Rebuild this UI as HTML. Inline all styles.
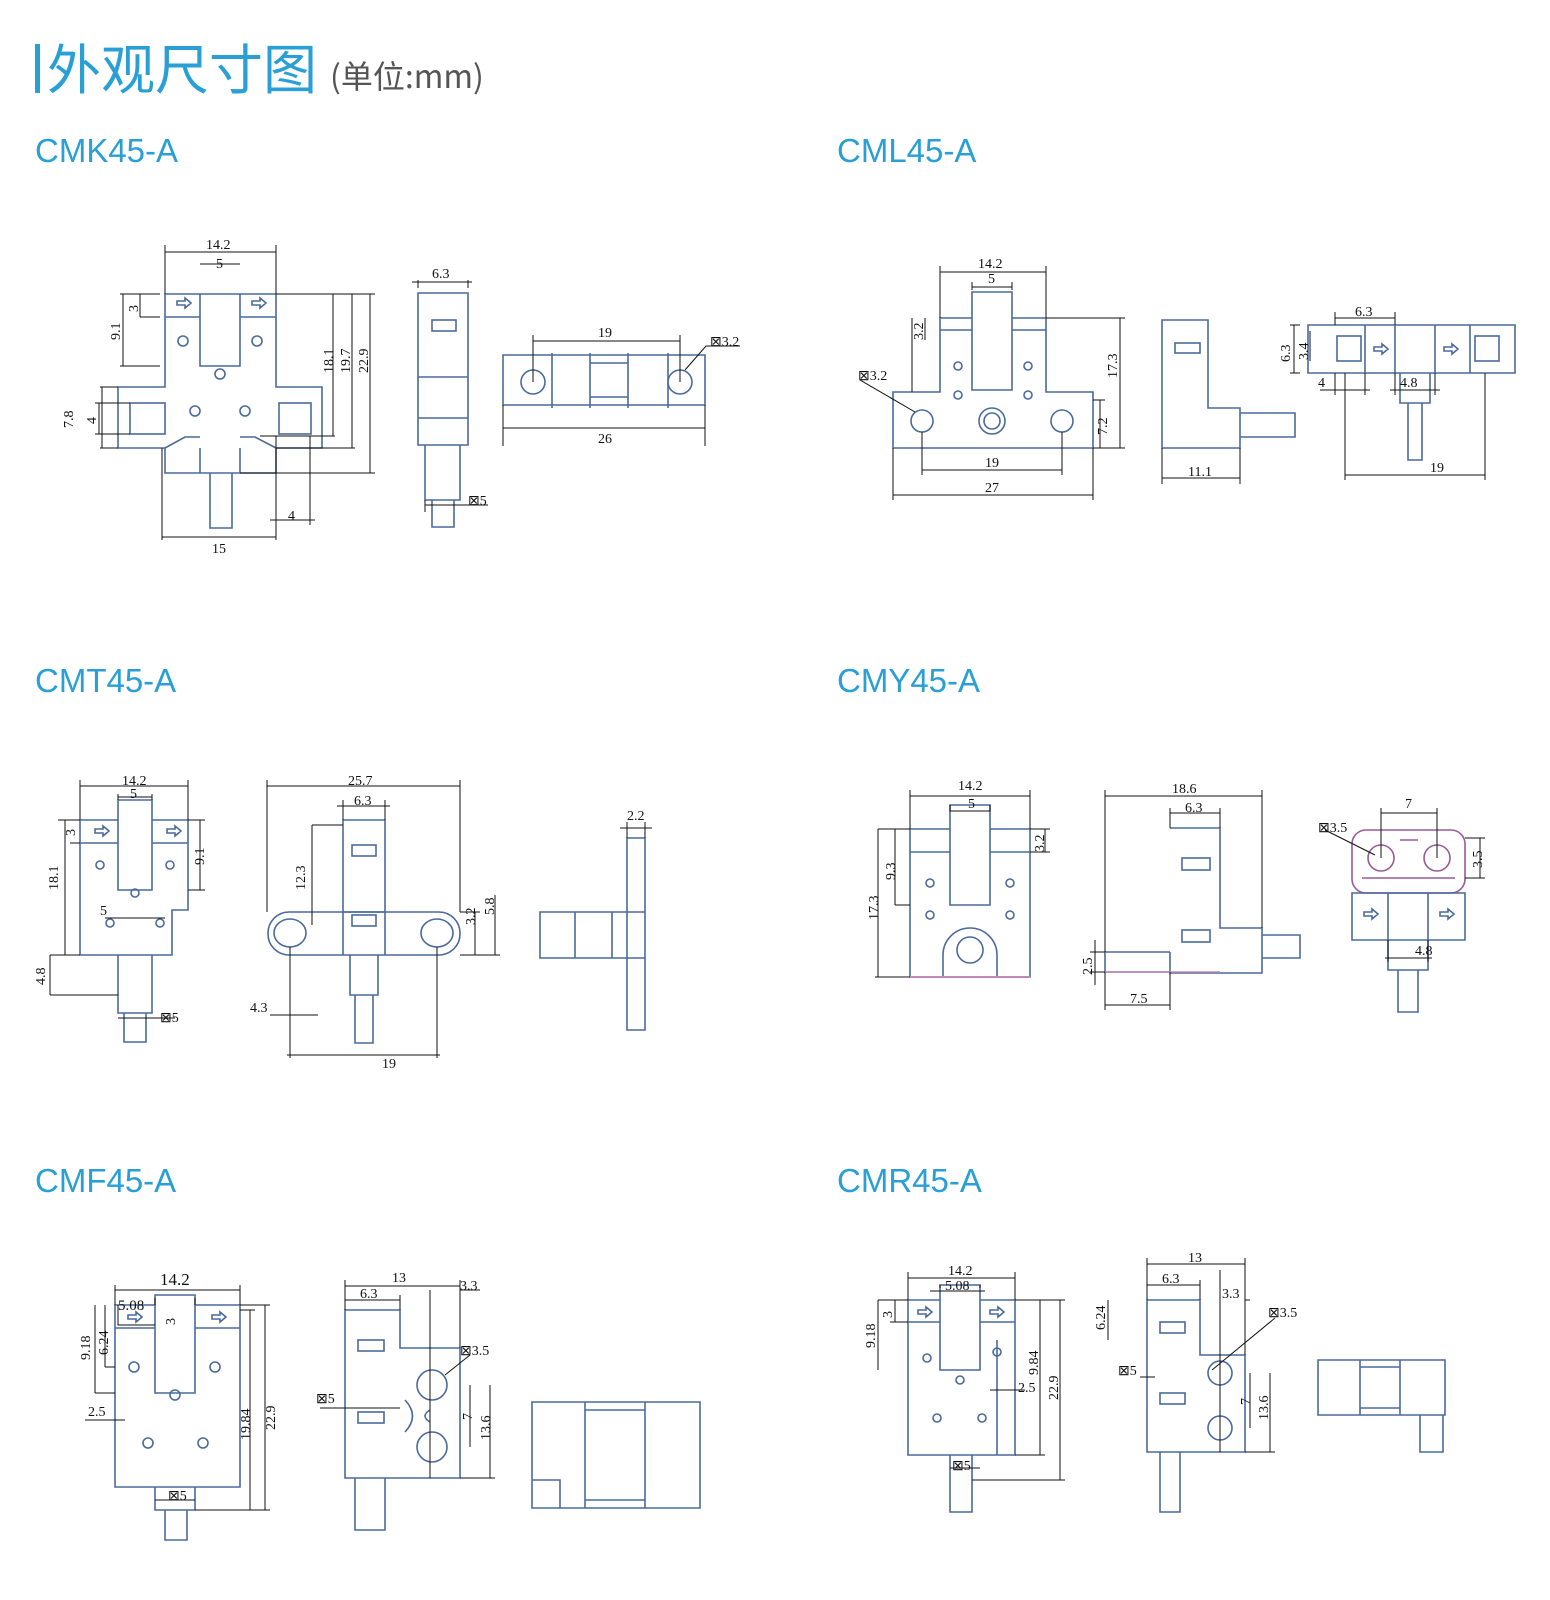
<!DOCTYPE html>
<html><head><meta charset="utf-8"><style>
html,body{margin:0;padding:0;background:#fff;width:1550px;height:1600px;overflow:hidden}
svg{display:block}
.o{fill:none;stroke:#4a6a9c;stroke-width:1.6}
.p{fill:none;stroke:#9a5a9a;stroke-width:1.6}
.d{fill:none;stroke:#111;stroke-width:1}
.t{font-family:"Liberation Serif",serif;font-size:14px;fill:#111}
.h{font-family:"Liberation Sans","Noto Sans CJK SC",sans-serif;font-size:33px;fill:#2a9fd6}
</style></head><body>
<svg width="1550" height="1600" viewBox="0 0 1550 1600" xmlns="http://www.w3.org/2000/svg">
<rect x="35" y="44" width="5" height="49" fill="#2a9fd6"/>
<text x="47" y="89" style="font-family:'Noto Sans CJK SC',sans-serif;font-size:54px;fill:#2a9fd6">外观尺寸图</text>
<text x="330" y="88" style="font-family:'Noto Sans CJK SC',sans-serif;font-size:32px;fill:#555">(单位:mm)</text>
<text class="h" x="35" y="162">CMK45-A</text>
<text class="h" x="837" y="162">CML45-A</text>
<text class="h" x="35" y="692">CMT45-A</text>
<text class="h" x="837" y="692">CMY45-A</text>
<text class="h" x="35" y="1192">CMF45-A</text>
<text class="h" x="837" y="1192">CMR45-A</text>

<!-- CMK front -->
<path class="o" d="M165,294H276V387H322V448H276V473H240H200V473H165V448H118V387H165Z"/>
<path class="o" d="M200,294V366H240V294M165,317H200M240,317H276M200,473V448M240,448V473M210,473V528H232V473"/>
<rect class="o" x="130" y="403" width="35" height="31"/><rect class="o" x="279" y="403" width="32" height="31"/>
<path class="o" d="M165,448L185,437H200M240,437H255L276,448"/>
<circle class="o" cx="183" cy="341" r="5"/><circle class="o" cx="257" cy="341" r="5"/><circle class="o" cx="220" cy="374" r="5"/><circle class="o" cx="195" cy="411" r="5"/><circle class="o" cx="245" cy="411" r="5"/>
<path class="o" d="M177,301h8v-3l6,5l-6,5v-3h-8z M252,301h8v-3l6,5l-6,5v-3h-8z"/>
<g class="d"><path d="M165,294V245M276,294V245M165,252H276M200,264H240M276,294H375M260,436H335M276,448H355M240,473H375M160,294H120M160,317H140M160,366H120M118,387H100M118,448H100M130,403H95M130,434H95M162,448V540M276,436V540M310,436V525M162,537H276M270,520H315M333,294V436M352,294V448M370,294V473M123,294V366M140,294V317M102,387V448M99,403V434"/></g>
<text class="t" x="206" y="249">14.2</text><text class="t" x="216" y="268">5</text><text class="t" x="212" y="553">15</text><text class="t" x="288" y="520">4</text>
<text class="t" transform="translate(333,373)rotate(-90)">18.1</text><text class="t" transform="translate(350,373)rotate(-90)">19.7</text><text class="t" transform="translate(368,373)rotate(-90)">22.9</text>
<text class="t" transform="translate(120,340)rotate(-90)">9.1</text><text class="t" transform="translate(138,312)rotate(-90)">3</text><text class="t" transform="translate(73,428)rotate(-90)">7.8</text><text class="t" transform="translate(96,424)rotate(-90)">4</text>
<!-- CMK side -->
<path class="o" d="M418,293H468V445H418Z M418,377H468 M418,418H468 M425,445V500H460V445 M432,500V527H454V500"/><rect class="o" x="432" y="320" width="24" height="11"/>
<g class="d"><path d="M418,288V280M468,288V280M412,282H472M425,505H488M425,500V512"/></g>
<text class="t" x="432" y="278">6.3</text><text class="t" x="468" y="505">⊠5</text>
<!-- CMK third -->
<path class="o" d="M503,355H705V405H503Z M552,353V408 M590,353V408 M628,353V408 M668,353V408 M590,363H628 M590,397H628"/>
<circle class="o" cx="533" cy="382" r="12"/><circle class="o" cx="680" cy="382" r="12"/>
<g class="d"><path d="M533,382V335M680,382V335M533,341H680M503,405V446M705,405V446M503,428H705M685,370L706,346H740"/></g>
<text class="t" x="598" y="337">19</text><text class="t" x="598" y="443">26</text><text class="t" x="710" y="346">⊠3.2</text>

<!-- CML front -->
<path class="o" d="M940,318H972V292H1012V318H1046V392H1093V448H893V392H940Z M972,318V390H1012V318 M940,330H972M1012,330H1046"/>
<circle class="o" cx="922" cy="421" r="11"/><circle class="o" cx="992" cy="421" r="13"/><circle class="o" cx="992" cy="421" r="8"/><circle class="o" cx="1062" cy="421" r="11"/>
<circle class="o" cx="958" cy="366" r="4"/><circle class="o" cx="1028" cy="366" r="4"/><circle class="o" cx="958" cy="395" r="4"/><circle class="o" cx="1028" cy="395" r="4"/>
<g class="d"><path d="M940,318V266M1046,318V266M940,272H1046M972,290V282M1012,290V282M972,287H1012M1046,318H1125M1093,400H1105M1093,448H1125M1120,318V448M1100,400V448M922,432V475M1062,432V475M922,470H1062M893,448V500M1093,448V500M893,495H1093M912,318V392M925,318V340M860,380L915,412"/></g>
<text class="t" x="978" y="268">14.2</text><text class="t" x="988" y="283">5</text><text class="t" x="985" y="467">19</text><text class="t" x="985" y="492">27</text><text class="t" x="858" y="380">⊠3.2</text>
<text class="t" transform="translate(1117,378)rotate(-90)">17.3</text><text class="t" transform="translate(1107,435)rotate(-90)">7.2</text><text class="t" transform="translate(923,340)rotate(-90)">3.2</text>
<!-- CML side -->
<path class="o" d="M1162,320H1208V408H1240V448H1162Z M1240,413H1295V437H1240"/><rect class="o" x="1175" y="343" width="25" height="10"/>
<g class="d"><path d="M1162,448V484M1240,448V484M1162,478H1240"/></g><text class="t" x="1188" y="476">11.1</text>
<!-- CML third -->
<path class="o" d="M1308,325H1515V373H1308Z M1365,325V373M1395,325V373M1435,325V373M1470,325V373 M1400,373V403H1430V373 M1408,403V460H1422V403"/>
<rect class="o" x="1337" y="336" width="24" height="25"/><rect class="o" x="1475" y="336" width="24" height="25"/>
<path class="o" d="M1374,347h8v-3l6,5l-6,5v-3h-8z M1444,347h8v-3l6,5l-6,5v-3h-8z"/>
<g class="d"><path d="M1300,325H1290M1300,373H1290M1294,325V373M1310,331V361M1345,373V480M1485,373V480M1345,475H1485M1335,373V395M1365,373V395M1320,390H1370M1395,373V395M1435,373V395M1390,390H1440M1335,325V312M1395,325V312M1335,318H1395"/></g>
<text class="t" x="1355" y="316">6.3</text><text class="t" x="1400" y="387">4.8</text><text class="t" x="1318" y="387">4</text><text class="t" x="1430" y="472">19</text>
<text class="t" transform="translate(1290,362)rotate(-90)">6.3</text><text class="t" transform="translate(1308,360)rotate(-90)">3.4</text>

<!-- CMT front -->
<path class="o" d="M80,820H118V800H152V820H188V910H172V955H80Z M118,820V890H152V820 M80,843H118M152,843H188 M118,955V1013H152V955 M124,1013V1042H146V1013"/>
<circle class="o" cx="100" cy="865" r="4"/><circle class="o" cx="170" cy="865" r="4"/><circle class="o" cx="135" cy="893" r="4"/><circle class="o" cx="110" cy="923" r="4"/><circle class="o" cx="160" cy="923" r="4"/>
<path class="o" d="M95,829h8v-3l6,5l-6,5v-3h-8z M167,829h8v-3l6,5l-6,5v-3h-8z"/>
<g class="d"><path d="M80,820V780M188,820V780M80,786H188M118,800V794M152,800V794M118,797H152M188,820H205M188,890H205M200,820V890M80,820H58M80,843H70M65,820V955M80,955H50M50,955V995M50,995H118M118,1018H175M105,918H165"/></g>
<text class="t" x="122" y="785">14.2</text><text class="t" x="130" y="798">5</text><text class="t" x="100" y="915">5</text><text class="t" x="160" y="1022">⊠5</text>
<text class="t" transform="translate(58,890)rotate(-90)">18.1</text><text class="t" transform="translate(75,836)rotate(-90)">3</text><text class="t" transform="translate(204,865)rotate(-90)">9.1</text><text class="t" transform="translate(45,985)rotate(-90)">4.8</text>
<!-- CMT side -->
<path class="o" d="M343,820H385V912H343Z"/><rect class="o" x="268" y="912" width="192" height="43" rx="21"/>
<path class="o" d="M343,912V955M385,912V955 M350,955V995H378V955 M355,995V1043H373V995"/>
<ellipse class="o" cx="290" cy="933" rx="16" ry="14"/><ellipse class="o" cx="437" cy="933" rx="16" ry="14"/>
<rect class="o" x="352" y="845" width="24" height="11"/><rect class="o" x="352" y="915" width="24" height="11"/>
<g class="d"><path d="M267,912V780M460,912V780M267,786H460M343,820V800M385,820V800M337,806H390M343,825H312M312,825V925M460,912H480M460,955H500M475,912V955M495,895V955M290,947V1058M437,947V1058M287,1055H440M270,1015H318"/></g>
<text class="t" x="348" y="785">25.7</text><text class="t" x="354" y="805">6.3</text><text class="t" x="382" y="1068">19</text><text class="t" x="250" y="1012">4.3</text>
<text class="t" transform="translate(305,890)rotate(-90)">12.3</text><text class="t" transform="translate(475,925)rotate(-90)">3.2</text><text class="t" transform="translate(494,915)rotate(-90)">5.8</text>
<!-- CMT third -->
<path class="o" d="M627,838H645V1030H627Z M540,912H645V958H540Z M575,912V958M612,912V958"/>
<g class="d"><path d="M627,838V822M645,838V822M620,828H652"/></g><text class="t" x="627" y="820">2.2</text>

<!-- CMY front -->
<path class="o" d="M910,829H950V805H990V829H1030V977H910Z M950,829V905H990V829 M910,852H950M990,852H1030 M943,977V955A27,27 0 0 1 997,955V977"/>
<circle class="o" cx="970" cy="950" r="13"/><circle class="o" cx="930" cy="883" r="4"/><circle class="o" cx="1010" cy="883" r="4"/><circle class="o" cx="930" cy="915" r="4"/><circle class="o" cx="1010" cy="915" r="4"/>
<path d="M910,977H1030" stroke="#c08ab8" stroke-width="2"/>
<g class="d"><path d="M910,829V790M1030,829V790M910,796H1030M950,805V811H990V805M910,829H878M878,829V977M910,977H875M910,905H895M895,829V905M1030,829H1050M1030,852H1050M1045,829V852"/></g>
<text class="t" x="958" y="790">14.2</text><text class="t" x="968" y="808">5</text>
<text class="t" transform="translate(878,920)rotate(-90)">17.3</text><text class="t" transform="translate(895,880)rotate(-90)">9.3</text><text class="t" transform="translate(1044,852)rotate(-90)">3.2</text>
<!-- CMY side -->
<path class="o" d="M1170,828H1220V928H1262V973H1170V972H1105V952H1170 M1262,935H1300V958H1262 M1170,952V972"/>
<rect class="o" x="1182" y="858" width="28" height="12"/><rect class="o" x="1182" y="930" width="28" height="12"/>
<path d="M1105,972H1220" stroke="#c08ab8" stroke-width="1.5"/>
<g class="d"><path d="M1105,952V790M1262,928V790M1105,796H1262M1170,828V808M1220,828V808M1170,813H1220M1105,952H1090M1105,972H1090M1095,940V985M1105,972V1010M1170,972V1010M1105,1005H1170"/></g>
<text class="t" x="1172" y="793">18.6</text><text class="t" x="1185" y="812">6.3</text><text class="t" x="1130" y="1003">7.5</text><text class="t" transform="translate(1092,975)rotate(-90)">2.5</text>
<!-- CMY third -->
<rect class="p" x="1352" y="830" width="113" height="63" rx="14"/>
<circle class="p" cx="1381" cy="858" r="13"/><circle class="p" cx="1437" cy="858" r="13"/>
<path class="p" d="M1362,878H1455 M1400,840H1418"/>
<path class="o" d="M1352,893H1465V940H1352Z M1388,893V940M1428,893V940 M1388,940V970H1428V940 M1398,970V1012H1418V970"/>
<path class="o" d="M1364,912h8v-3l6,5l-6,5v-3h-8z M1440,912h8v-3l6,5l-6,5v-3h-8z"/>
<g class="d"><path d="M1381,858V808M1437,858V808M1381,813H1437M1465,838H1485M1465,878H1485M1480,838V878M1388,940V962M1428,940V962M1385,958H1432M1325,830L1375,855"/></g>
<text class="t" x="1405" y="808">7</text><text class="t" x="1415" y="955">4.8</text><text class="t" x="1318" y="832">⊠3.5</text><text class="t" transform="translate(1482,868)rotate(-90)">3.5</text>

<!-- CMF front -->
<path class="o" d="M115,1305H155V1295H195V1305H240V1487H115Z M155,1305V1393H195V1305 M115,1328H155M195,1328H240 M155,1487V1510H195V1487 M165,1510V1540H187V1510"/>
<circle class="o" cx="134" cy="1367" r="5"/><circle class="o" cx="215" cy="1367" r="5"/><circle class="o" cx="175" cy="1395" r="5"/><circle class="o" cx="148" cy="1443" r="5"/><circle class="o" cx="203" cy="1443" r="5"/>
<path class="o" d="M128,1315h8v-3l6,5l-6,5v-3h-8z M212,1315h8v-3l6,5l-6,5v-3h-8z"/>
<g class="d"><path d="M115,1305V1285M240,1305V1285M115,1290H240M118,1305V1325H155M155,1305V1298M195,1305V1298M240,1305H270M240,1310H255M195,1510H270M250,1310V1510M265,1305V1510M115,1393H95M115,1367H105M95,1305V1393M105,1305V1367M85,1420H125M155,1500H195"/></g>
<text class="t" x="160" y="1285" style="font-size:17px">14.2</text><text class="t" x="118" y="1310" style="font-size:15px">5.08</text><text class="t" x="88" y="1416">2.5</text><text class="t" x="168" y="1500">⊠5</text>
<text class="t" transform="translate(90,1360)rotate(-90)">9.18</text><text class="t" transform="translate(108,1355)rotate(-90)">6.24</text><text class="t" transform="translate(175,1325)rotate(-90)">3</text>
<text class="t" transform="translate(250,1440)rotate(-90)">19.84</text><text class="t" transform="translate(275,1430)rotate(-90)">22.9</text>
<!-- CMF side -->
<path class="o" d="M345,1310H400V1348H460V1478H345Z M355,1478V1530H385V1478"/>
<circle class="o" cx="432" cy="1385" r="15"/><circle class="o" cx="432" cy="1447" r="15"/>
<path class="o" d="M405,1400Q420,1416 405,1432M430,1410Q420,1416 430,1422"/>
<rect class="o" x="358" y="1340" width="26" height="11"/><rect class="o" x="358" y="1412" width="26" height="11"/>
<g class="d"><path d="M345,1310V1280M460,1348V1280M345,1286H460M400,1310V1295M345,1300H400M430,1290V1478M460,1290H480M460,1478H495M490,1385V1478M470,1385V1447M320,1408H400M445,1375L470,1355"/></g>
<text class="t" x="392" y="1282">13</text><text class="t" x="360" y="1298">6.3</text><text class="t" x="460" y="1290">3.3</text><text class="t" x="460" y="1355">⊠3.5</text><text class="t" x="316" y="1403">⊠5</text>
<text class="t" transform="translate(490,1440)rotate(-90)">13.6</text><text class="t" transform="translate(472,1420)rotate(-90)">7</text>
<!-- CMF third -->
<path class="o" d="M532,1402H700V1508H532Z M585,1402V1508M645,1402V1508 M532,1480H560V1508 M585,1410H645M585,1500H645"/>

<!-- CMR front -->
<path class="o" d="M908,1300H940V1285H980V1300H1015V1455H908Z M940,1300V1370H980V1300 M908,1322H940M980,1322H1015 M997,1340V1455 M950,1455V1512H972V1455"/>
<circle class="o" cx="927" cy="1358" r="4"/><circle class="o" cx="997" cy="1352" r="4"/><circle class="o" cx="960" cy="1380" r="4"/><circle class="o" cx="937" cy="1418" r="4"/><circle class="o" cx="982" cy="1418" r="4"/>
<path class="o" d="M918,1310h8v-3l6,5l-6,5v-3h-8z M990,1310h8v-3l6,5l-6,5v-3h-8z"/>
<g class="d"><path d="M908,1300V1272M1015,1300V1272M908,1278H1015M940,1285V1288M980,1285V1288M930,1291H985M908,1300H878M908,1322H890M878,1300V1370M895,1300V1322M1015,1300H1065M1015,1455H1045M1040,1300V1455M1060,1300V1480M972,1480H1065M990,1390H1025M950,1468H980"/></g>
<text class="t" x="948" y="1275">14.2</text><text class="t" x="945" y="1290">5.08</text><text class="t" x="1018" y="1392">2.5</text><text class="t" x="952" y="1470">⊠5</text>
<text class="t" transform="translate(875,1348)rotate(-90)">9.18</text><text class="t" transform="translate(892,1318)rotate(-90)">3</text><text class="t" transform="translate(1038,1375)rotate(-90)">9.84</text><text class="t" transform="translate(1058,1400)rotate(-90)">22.9</text>
<!-- CMR side -->
<path class="o" d="M1147,1300H1200V1355H1245V1452H1147Z M1160,1452V1512H1180V1452"/>
<circle class="o" cx="1220" cy="1373" r="12"/><circle class="o" cx="1220" cy="1428" r="12"/>
<rect class="o" x="1160" y="1322" width="25" height="11"/><rect class="o" x="1160" y="1393" width="25" height="11"/>
<g class="d"><path d="M1147,1300V1258M1245,1355V1258M1147,1264H1245M1200,1300V1280M1147,1285H1200M1220,1270V1452M1245,1300H1250M1245,1452H1275M1270,1373V1452M1250,1373V1428M1108,1300V1340M1140,1377H1155M1212,1370L1275,1318"/></g>
<text class="t" x="1188" y="1262">13</text><text class="t" x="1162" y="1283">6.3</text><text class="t" x="1222" y="1298">3.3</text><text class="t" x="1268" y="1317">⊠3.5</text><text class="t" x="1118" y="1375">⊠5</text>
<text class="t" transform="translate(1105,1330)rotate(-90)">6.24</text><text class="t" transform="translate(1268,1420)rotate(-90)">13.6</text><text class="t" transform="translate(1250,1405)rotate(-90)">7</text>
<!-- CMR third -->
<path class="o" d="M1318,1360H1445V1415H1318Z M1360,1360V1415M1400,1360V1415 M1420,1415V1452H1443V1415 M1360,1367H1400M1360,1408H1400"/>
</svg>
</body></html>
